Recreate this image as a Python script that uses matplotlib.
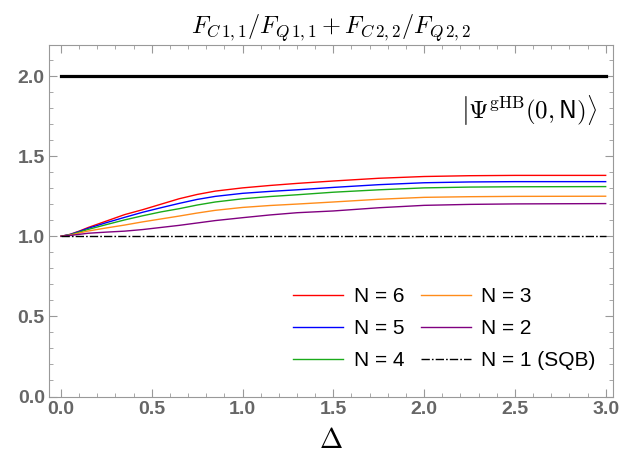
import matplotlib
matplotlib.use("Agg")
import matplotlib.pyplot as plt
from matplotlib.ticker import MultipleLocator, FormatStrFormatter

plt.rcParams['mathtext.fontset'] = 'cm'

delta = [0.0, 0.05, 0.1, 0.15, 0.25, 0.35, 0.45, 0.55, 0.65, 0.75, 0.85, 1.0,
         1.15, 1.3, 1.5, 1.75, 2.0, 2.25, 2.5, 3.0]
n6 = [1.0, 1.012, 1.032, 1.055, 1.095, 1.135, 1.166, 1.200, 1.234, 1.261, 1.282, 1.302,
      1.317, 1.330, 1.345, 1.362, 1.373, 1.378, 1.380, 1.380]
n5 = [1.0, 1.011, 1.030, 1.050, 1.085, 1.118, 1.150, 1.178, 1.205, 1.230, 1.249, 1.268,
      1.280, 1.290, 1.305, 1.322, 1.334, 1.339, 1.341, 1.341]
n4 = [1.0, 1.009, 1.026, 1.043, 1.073, 1.102, 1.128, 1.152, 1.172, 1.195, 1.214, 1.234,
      1.248, 1.259, 1.275, 1.290, 1.302, 1.307, 1.309, 1.310]
n3 = [1.0, 1.007, 1.020, 1.033, 1.052, 1.070, 1.090, 1.108, 1.126, 1.145, 1.162, 1.180,
      1.192, 1.201, 1.214, 1.231, 1.243, 1.247, 1.249, 1.250]
n2 = [1.0, 1.005, 1.012, 1.019, 1.026, 1.032, 1.042, 1.055, 1.068, 1.083, 1.098, 1.116,
      1.133, 1.147, 1.158, 1.178, 1.193, 1.199, 1.202, 1.204]
upper_bound = 2.0
sqb = 1.0

labels = ["N = 6", "N = 5", "N = 4", "N = 3", "N = 2", "N = 1 (SQB)"]
colors = ["#ff0000", "#0000ff", "#1aab1a", "#ff8c1a", "#800080"]

fig = plt.figure(figsize=(6.19, 4.62), dpi=100)
ax = fig.add_axes([0.0792, 0.1407, 0.911, 0.762])

handles = []
for ys, c, lab in zip([n6, n5, n4, n3, n2], colors, labels[:5]):
    h, = ax.plot(delta, ys, color=c, lw=1.0, label=lab)
    handles.append(h)
ax.plot([delta[0], delta[-1]], [upper_bound, upper_bound], color='black', lw=2.3)
h1, = ax.plot([delta[0], delta[-1]], [sqb, sqb], color='black', lw=1.0,
              dashes=(6, 1.5, 1.2, 1.5), label=labels[5])
handles.append(h1)

ax.set_xlim(-0.066, 3.04)
ax.set_ylim(-0.003, 2.194)
ax.xaxis.set_major_locator(MultipleLocator(0.5))
ax.xaxis.set_minor_locator(MultipleLocator(0.1))
ax.yaxis.set_major_locator(MultipleLocator(0.5))
ax.yaxis.set_minor_locator(MultipleLocator(0.1))
ax.xaxis.set_major_formatter(FormatStrFormatter('%.1f'))
ax.yaxis.set_major_formatter(FormatStrFormatter('%.1f'))
ax.tick_params(which='both', direction='in', top=True, right=True, color='#999999',
               labelcolor='#666666', labelsize=14, pad=3)
ax.tick_params(which='major', length=6, width=0.8)
ax.tick_params(which='minor', length=3, width=0.6)
for lab in ax.get_xticklabels() + ax.get_yticklabels():
    lab.set_fontfamily('Liberation Sans')
    lab.set_fontweight('bold')
for s in ax.spines.values():
    s.set_color('#999999')
    s.set_linewidth(0.8)

ax.set_title(r'$F_{C\,1,1}/F_{Q\,1,1}+F_{C\,2,2}/F_{Q\,2,2}$', fontsize=17.5, pad=8)
ax.set_xlabel(r'$\Delta$', fontsize=20, labelpad=6)
ax.text(0.972, 0.815, r'$\left|\Psi^{\mathrm{gHB}}(0,\mathsf{N})\right\rangle$',
        transform=ax.transAxes, fontsize=18, ha='right', va='center')

leg = ax.legend(handles=handles, ncol=2, loc='lower right', frameon=False,
                prop={'family': 'Liberation Sans', 'size': 15},
                handlelength=2.4, handletextpad=0.5, columnspacing=0.8,
                labelspacing=0.62, borderaxespad=0.3, bbox_to_anchor=(0.995, 0.035))

fig.savefig("out.png", dpi=100)
